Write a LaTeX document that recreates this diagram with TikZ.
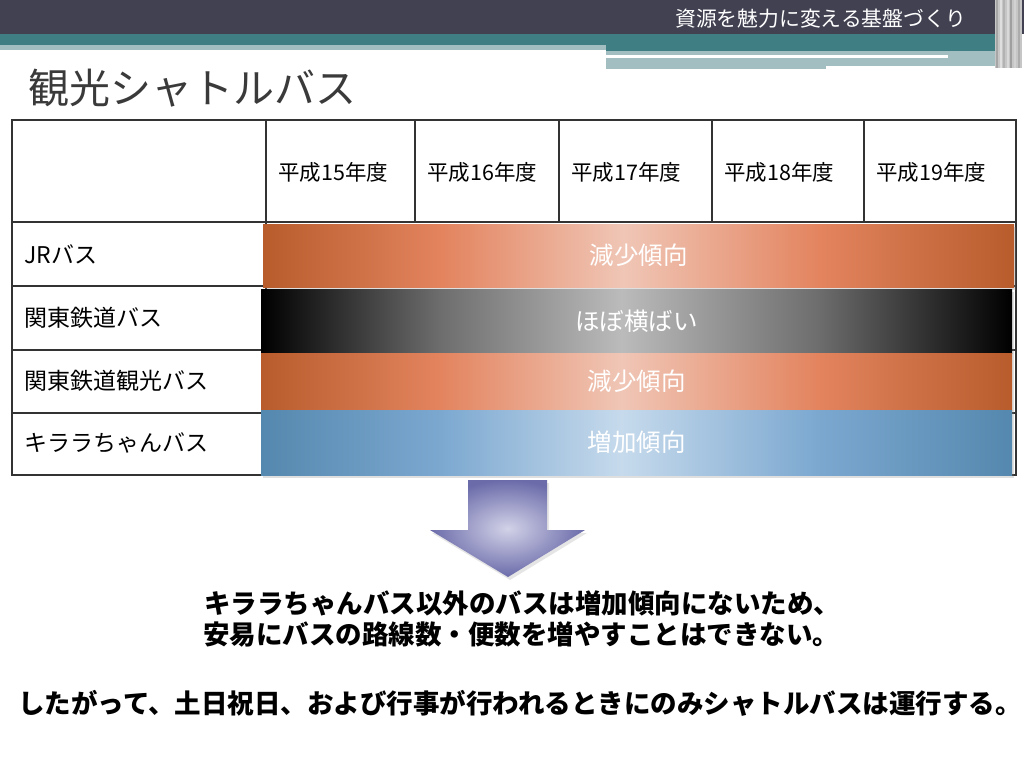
\documentclass[tikz,border=0pt]{standalone}
\usepackage{fontspec}
\setmainfont{Noto Sans CJK JP}
\usetikzlibrary{shadows}
\definecolor{headdark}{HTML}{414152}
\definecolor{headteal}{HTML}{3F7E82}
\definecolor{headpale}{HTML}{A3BEC1}
\definecolor{titlegray}{HTML}{3A3A3A}
\definecolor{tblline}{HTML}{333333}
\definecolor{orD}{HTML}{B85C2C}
\definecolor{orM}{HTML}{E3845F}
\definecolor{orL}{HTML}{F0C6B6}
\definecolor{grD}{HTML}{000000}
\definecolor{grM}{HTML}{6E6E6E}
\definecolor{grL}{HTML}{BBBBBB}
\definecolor{blD}{HTML}{5588AE}
\definecolor{blM}{HTML}{7CA8D0}
\definecolor{blL}{HTML}{C6DAEC}
\definecolor{arrowL}{HTML}{D2D2E8}
\definecolor{arrowD}{HTML}{6B6BAA}
\pgfdeclarehorizontalshading{orangebar}{100bp}{color(0bp)=(orD); color(25bp)=(orD); color(37bp)=(orM); color(49bp)=(orL); color(62bp)=(orM); color(75bp)=(orD); color(100bp)=(orD)}
\pgfdeclarehorizontalshading{graybar}{100bp}{color(0bp)=(grD); color(25bp)=(grD); color(37bp)=(grM); color(49bp)=(grL); color(62bp)=(grM); color(75bp)=(grD); color(100bp)=(grD)}
\pgfdeclarehorizontalshading{bluebar}{100bp}{color(0bp)=(blD); color(25bp)=(blD); color(37bp)=(blM); color(49bp)=(blL); color(62bp)=(blM); color(75bp)=(blD); color(100bp)=(blD)}
\begin{document}
\begin{tikzpicture}[x=1pt,y=-1pt,
  tbl/.style={tblline,line width=1.3pt},
  bar/.style={shade,minimum width=751pt,inner sep=0pt,text=white,font=\fontsize{24.5}{28}\selectfont,drop shadow={shadow xshift=2pt,shadow yshift=-3pt,opacity=0.25}},
  rowlbl/.style={anchor=west,inner sep=0pt,font=\fontsize{23}{26}\selectfont},
  yearlbl/.style={anchor=west,inner sep=0pt,font=\fontsize{21.5}{24}\selectfont},
  note/.style={inner sep=0pt,font=\bfseries\fontsize{26.5}{30}\selectfont}]
\useasboundingbox[fill=white] (0,0) rectangle (1024,768);
% header band
\fill[headdark] (0,0) rectangle (1024,34);
\fill[headteal] (0,34) rectangle (1000,45);
\fill[headpale] (0,45) rectangle (606,50);
\fill[headteal] (606,45) rectangle (1000,51);
\fill[headpale] (606,51) rectangle (1000,69);
\fill[white] (606,55) rectangle (948,58);
\fill[white] (826,66) rectangle (1000,69);
\fill[gray!45] (995,0) rectangle (1022,68);
\foreach \x/\c in {997/gray!70,1001/gray!25,1004/gray!60,1008/gray!30,1011/gray!75,1015/gray!35,1019/gray!65}
  \draw[\c,line width=1.5pt] (\x,0) -- (\x,68);
\node[anchor=east,inner sep=0pt,text=white,font=\fontsize{20.8}{24}\selectfont] (tagline) at (966,19) {資源を魅力に変える基盤づくり};
\node[anchor=west,inner sep=0pt,text=titlegray,font=\fontsize{41}{46}\selectfont] (title) at (28,88) {観光シャトルバス};
% table
\draw[tbl] (12,120) rectangle (1016,475);
\foreach \y in {222,286,350,413}
  \draw[tbl] (12,\y) -- (1016,\y);
\draw[tbl] (266,120) -- (266,475);
\foreach \x in {415,559,712,864}
  \draw[tbl] (\x,120) -- (\x,222);
\foreach \x/\yr in {278/15,427/16,571/17,724/18,876/19}
  \node[yearlbl] (y\yr) at (\x,172) {平成{\yr}年度};
\node[rowlbl] (jr) at (24,254) {JRバス};
\node[rowlbl] (kantetsu) at (24,318) {関東鉄道バス};
\node[rowlbl] (kankou) at (24,381) {関東鉄道観光バス};
\node[rowlbl] (kirara) at (24,443) {キララちゃんバス};
% trend bars
\node[bar,shading=orangebar,minimum height=63pt] (jrbar) at (638.5,255.5) {\raisebox{-4pt}{減少傾向}};
\node[bar,shading=graybar,minimum height=64pt] (kantetsubar) at (636.5,321) {\raisebox{-2pt}{ほぼ横ばい}};
\node[bar,shading=orangebar,minimum height=57pt] (kankoubar) at (636.5,381.5) {\raisebox{-1pt}{減少傾向}};
\node[bar,shading=bluebar,minimum height=65pt] (kirarabar) at (636.5,442.5) {増加傾向};
% arrow
\path[inner color=arrowL,outer color=arrowD,drop shadow={shadow xshift=2pt,shadow yshift=-3pt,opacity=0.2}]
  (468,480) -- (547,480) -- (547,530) -- (585,530) -- (508,577) -- (430,530) -- (468,530) -- cycle;
% conclusion
\node[note] (reason) at (522,603) {キララちゃんバス以外のバスは増加傾向にないため、};
\node[note] (limit) at (521,634) {安易にバスの路線数・便数を増やすことはできない。};
\node[note] (policy) at (520,703) {したがって、土日祝日、および行事が行われるときにのみシャトルバスは運行する。};
\end{tikzpicture}
\end{document}
